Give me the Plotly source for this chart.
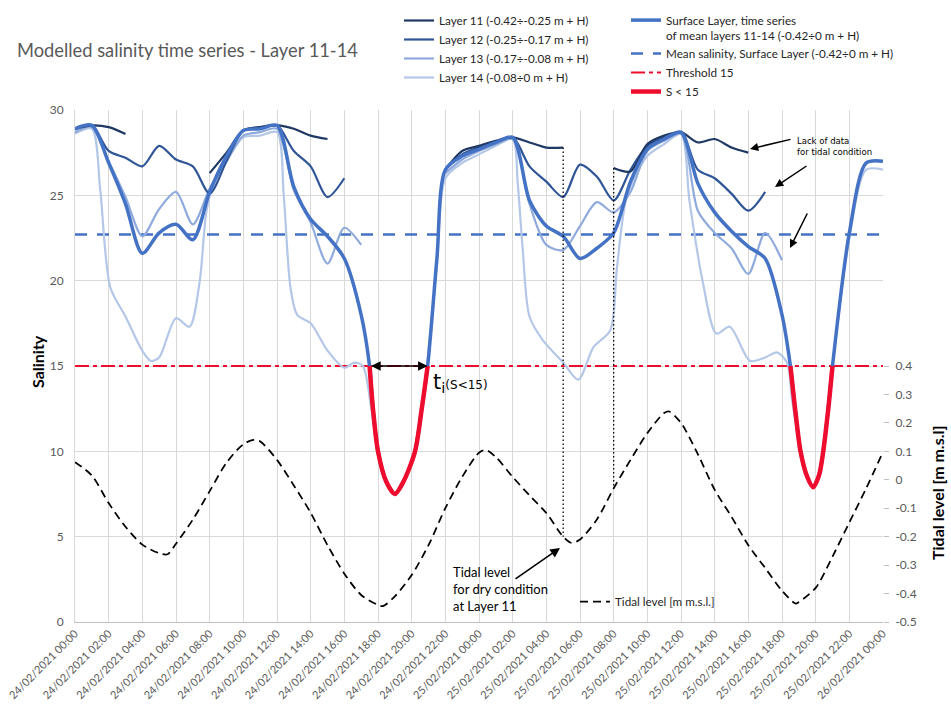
import plotly.graph_objects as go
import pandas as pd

BASE = pd.Timestamp("2021-02-24 00:00")

# ---------------- data (hours since 24/02/2021 00:00) ----------------
L11_H = [0, 1, 2, 3, 4, 8, 9, 10, 11, 12, 13, 14, 15, 16,
         22, 23, 24, 25, 26, 27, 28, 29, 30, 32, 33, 34, 35, 36, 37, 38, 39, 40]
L11_S = [28.9, 29.1, 29.0, 28.6, None, 26.3, 27.5, 28.8, 29.0, 29.1, 28.9, 28.5, 28.3, None,
         26.5, 27.6, 27.9, 28.2, 28.4, 28.1, 27.8, 27.8, None, 26.6, 26.4, 28.0, 28.5, 28.7, 28.1, 28.3, 27.8, 27.5]

L12_H = [0, 1, 2, 3, 4, 5, 6, 7, 8, 9, 10, 11, 12, 13, 14, 15, 16, 17,
         22, 23, 24, 25, 26, 27, 28, 29, 30, 31, 32, 33, 34, 35, 36, 37, 38, 39, 40, 41]
L12_S = [28.9, 29.1, 27.6, 27.2, 26.7, 27.9, 27.1, 26.7, 25.1, 27.0, 28.8, 29.0, 29.1, 27.6, 26.7, 24.9, 26.0, None,
         26.5, 27.4, 27.8, 28.1, 28.4, 26.7, 25.8, 24.9, 26.8, 26.1, 24.7, 26.5, 27.9, 28.4, 28.7, 26.5, 26.0, 25.1, 24.1, 25.2]

L13_H = [0, 1, 2, 3, 4, 5, 6, 7, 8, 9, 10, 11, 12, 13, 14, 15, 16, 17, 18,
         22, 23, 24, 25, 26, 27, 28, 29, 30, 31, 32, 33, 34, 35, 36, 37, 38, 39, 40, 41, 42]
L13_S = [28.7, 29.0, 27.0, 24.9, 22.6, 24.2, 25.2, 23.3, 25.4, 27.0, 28.5, 28.7, 28.9, 25.3, 23.4, 21.0, 23.1, 22.1, None,
         26.3, 27.1, 27.6, 28.0, 28.3, 24.5, 22.1, 21.8, 23.2, 24.6, 24.0, 25.2, 27.6, 28.2, 28.6, 24.1, 22.8, 21.9, 20.4, 22.8, 21.2]

L14_H = [0, 1, 1.5, 2.1, 3, 4, 4.5, 5, 6, 6.8, 7.4, 7.8, 8.2, 9, 10, 11, 12, 12.4, 12.8, 13.2, 14, 15, 16, 16.6, 17.1,
         17.6, 18.0, 18.5, 19.0, 19.5, 20.2, 20.9, 21.5, 22, 23, 24, 25, 26, 26.3, 26.6, 27, 27.8, 29, 29.9, 30.8, 31.8,
         32.2, 32.8, 34, 35, 36, 36.5, 37.3, 38.1, 38.9, 40.1, 41, 41.7, 42.3, 42.6, 43.1, 43.5, 43.85, 44.2, 44.45, 45,
         46, 47, 48]
L14_S = [28.6, 28.9, 25.3, 19.6, 17.9, 15.9, 15.3, 15.5, 17.8, 17.3, 19.9, 24.0, 25.6, 27.0, 28.4, 28.5, 28.7, 25.0, 19.6, 18.0,
         17.5, 15.9, 14.9, 15.2, 15.0, 12.5, 10.0, 8.2, 7.5, 8.2, 10.0, 15.0, 21.0, 26.0, 26.9, 27.4, 27.9, 28.3, 25.7, 21.8,
         17.9, 16.5, 15.2, 14.2, 16.1, 17.1, 20.8, 25.0, 27.3, 28.0, 28.6, 24.7, 19.9, 16.9, 17.3, 15.3, 15.5, 15.8, 15.2,
         13.0, 10.0, 8.5, 7.9, 8.6, 10.0, 15.0, 22.5, 26.5, 26.5]

SURF_H = [0, 1, 2, 3, 4, 5, 6, 7, 8, 9, 10, 11, 12, 13, 14, 15, 16, 17, 17.5, 17.7, 18.0, 18.5, 19.0, 19.5, 20.2,
          20.6, 20.95, 21.5, 22, 23, 24, 25, 26, 27, 28, 29, 30, 31, 32, 33, 34, 35, 36, 37, 38, 39, 40, 41, 42,
          42.5, 42.8, 43.1, 43.5, 43.85, 44.2, 44.45, 44.75, 45.0, 46, 47, 48]
SURF_S = [28.9, 29.1, 26.9, 24.5, 21.6, 22.8, 23.3, 22.4, 25.2, 27.3, 28.8, 28.9, 29.1, 25.5, 23.6, 22.6, 21.3, 18.0, 15.0,
          12.5, 10.0, 8.2, 7.5, 8.2, 10.0, 12.5, 15.0, 21.3, 26.5, 27.3, 27.7, 28.1, 28.4, 24.7, 23.2, 22.6, 21.3, 21.9,
          22.8, 25.8, 27.7, 28.3, 28.7, 25.7, 24.0, 22.9, 22.0, 21.3, 18.0, 15.0, 12.3, 10.0, 8.5, 7.9, 8.6, 10.0, 12.5,
          15.0, 22.8, 26.9, 27.0]

MEAN_SAL = 22.7
THRESHOLD = 15

TIDE_H = [0, 1, 2, 3, 4, 5, 5.5, 6, 7, 8, 9, 10, 10.6, 11, 12, 13, 14, 15, 16, 17, 18, 18.3, 19, 20, 21, 22, 23, 24,
          24.4, 25, 26, 27, 28, 29, 29.5, 30, 31, 32, 33, 34, 35, 35.3, 36, 37, 38, 39, 40, 41, 42, 42.8, 43, 44, 45,
          46, 47, 48]
TIDE = [0.062, 0.015, -0.082, -0.165, -0.228, -0.258, -0.262, -0.225, -0.14, -0.04, 0.06, 0.125, 0.14, 0.135, 0.07,
        -0.02, -0.116, -0.23, -0.33, -0.405, -0.44, -0.444, -0.41, -0.335, -0.23, -0.1, 0.01, 0.095, 0.105, 0.08,
        0.01, -0.055, -0.117, -0.2, -0.222, -0.21, -0.14, -0.03, 0.07, 0.164, 0.235, 0.24, 0.2, 0.09, -0.035, -0.13,
        -0.23, -0.31, -0.39, -0.435, -0.43, -0.38, -0.27, -0.15, -0.03, 0.098]

DRY_TIMES = [29, 32]          # layer 11 dry-condition limits
TI_START, TI_END = 17.5, 20.95  # t_i (S<15)

Y1_RANGE = [0, 30]
Y2_RANGE = [-0.5, 1.3]
Y2_TICKS = [-0.5, -0.4, -0.3, -0.2, -0.1, 0, 0.1, 0.2, 0.3, 0.4]
Y2_TICKTEXT = ["-0.5", "-0.4", "-0.3", "-0.2", "-0.1", "0", "0.1", "0.2", "0.3", "0.4"]

C11, C12, C13, C14 = "#1f3864", "#2f5597", "#8faadc", "#b4c7e7"
CSURF = "#4472c4"
CRED = "#ee0d2e"
FONT = "Lato"


def t(hours):
    return [BASE + pd.Timedelta(hours=h) for h in hours]


# plot area in pixels
PL, PR, PT, PB = 75, 883, 110, 622


def px(x):
    return (x - PL) / (PR - PL)


def py(y):
    return (PB - y) / (PB - PT)


fig = go.Figure()

# threshold & mean
fig.add_trace(go.Scatter(x=t([0, 48]), y=[THRESHOLD, THRESHOLD], mode="lines", name="Threshold 15",
                         line=dict(color=CRED, width=2, dash="14px,4px,4px,4px"), legend="legend2", legendrank=3))
fig.add_trace(go.Scatter(x=t([0, 48]), y=[MEAN_SAL, MEAN_SAL], mode="lines",
                         name="Mean salinity, Surface Layer (-0.42÷0 m + H)",
                         line=dict(color=CSURF, width=2.5, dash="12px,10px"), legend="legend2", legendrank=2))

# tidal level
fig.add_trace(go.Scatter(x=t(TIDE_H), y=TIDE, yaxis="y2", mode="lines", name="Tidal level [m m.s.l.]",
                         line=dict(color="black", width=1.75, dash="8px,5px", shape="spline", smoothing=0.8),
                         legend="legend3"))

# layers
for nm, H, S, c, rk in [("Layer 14 (-0.08÷0 m + H)", L14_H, L14_S, C14, 4),
                        ("Layer 13 (-0.17÷-0.08 m + H)", L13_H, L13_S, C13, 3),
                        ("Layer 12 (-0.25÷-0.17 m + H)", L12_H, L12_S, C12, 2),
                        ("Layer 11 (-0.42÷-0.25 m + H)", L11_H, L11_S, C11, 1)]:
    fig.add_trace(go.Scatter(x=t(H), y=S, mode="lines", name=nm,
                             line=dict(color=c, width=2.2, shape="spline", smoothing=0.8),
                             legend="legend", legendrank=rk))

# surface layer
fig.add_trace(go.Scatter(x=t(SURF_H), y=SURF_S, mode="lines",
                         name="Surface Layer, time series<br>of mean layers 11-14 (-0.42÷0 m + H)",
                         line=dict(color=CSURF, width=3.5, shape="spline", smoothing=0.8),
                         legend="legend2", legendrank=1))

# S < 15 part of surface layer
red_h, red_s = [], []
prev_in = False
for h, s in zip(SURF_H, SURF_S):
    inside = s <= THRESHOLD
    if inside:
        red_h.append(h)
        red_s.append(s)
    elif prev_in:
        red_h.append(h)
        red_s.append(None)
    prev_in = inside
fig.add_trace(go.Scatter(x=t(red_h), y=red_s, mode="lines", name="S < 15",
                         line=dict(color=CRED, width=4.5, shape="spline", smoothing=0.8),
                         legend="legend2", legendrank=4))

# dotted lines: dry condition of layer 11 down to tidal level
l11 = dict(zip(L11_H, L11_S))
tide = dict(zip(TIDE_H, TIDE))
for h in DRY_TIMES:
    top = l11[h]
    bot = (tide[h] - Y2_RANGE[0]) / (Y2_RANGE[1] - Y2_RANGE[0]) * (Y1_RANGE[1] - Y1_RANGE[0])
    fig.add_trace(go.Scatter(x=t([h, h]), y=[top, bot], mode="lines", showlegend=False,
                             line=dict(color="black", width=1.3, dash="1.5px,2.5px"), hoverinfo="skip"))

ann = []
# t_i double arrow
ann.append(dict(x=t([TI_END])[0], y=THRESHOLD, ax=t([TI_START])[0], ay=THRESHOLD, xref="x", yref="y",
                axref="x", ayref="y", text="", showarrow=True, arrowhead=2, startarrowhead=2,
                arrowside="end+start", arrowsize=1.2, arrowwidth=1.6, arrowcolor="black"))
ann.append(dict(x=px(431), y=py(383), xref="paper", yref="paper", xanchor="left", yanchor="middle",
                text="t<sub>i</sub><span style='font-size:12px;font-family:DejaVu Sans'>(S&lt;15)</span>",
                showarrow=False, font=dict(size=21, color="black", family="DejaVu Sans")))
# tidal level for dry condition
ann.append(dict(x=px(451), y=py(562), xref="paper", yref="paper", xanchor="left", yanchor="top", align="left",
                text="Tidal level<br>for dry condition<br>at Layer 11", showarrow=False,
                font=dict(size=13, color="black", family=FONT)))
ann.append(dict(x=px(560), y=py(548), xref="paper", yref="paper", ax=-46, ay=32, text="", showarrow=True,
                arrowhead=2, arrowsize=1.2, arrowwidth=1.6, arrowcolor="black"))
# lack of data
ann.append(dict(x=px(795), y=py(146), xref="paper", yref="paper", xanchor="left", yanchor="middle", align="left",
                text="Lack of data<br>for tidal condition", showarrow=False,
                font=dict(size=8.5, color="black", family="DejaVu Sans")))
for (hx, hy, ax, ay) in [(750, 149, 42, -10), (775, 187, 33, -22), (790, 248, 18, -36)]:
    ann.append(dict(x=px(hx), y=py(hy), xref="paper", yref="paper", ax=ax, ay=ay, text="", showarrow=True,
                    arrowhead=2, arrowsize=1.1, arrowwidth=1.5, arrowcolor="black"))
# titles
ann.append(dict(x=px(15), y=py(50), xref="paper", yref="paper", xanchor="left", yanchor="middle",
                text="Modelled salinity time series - Layer 11-14", showarrow=False,
                font=dict(size=18.3, color="#595959", family=FONT)))
ann.append(dict(x=px(37), y=py(362), xref="paper", yref="paper", xanchor="center", yanchor="middle",
                text="<b>Salinity</b>", textangle=-90, showarrow=False,
                font=dict(size=16, color="black", family=FONT)))
ann.append(dict(x=px(937), y=py(493), xref="paper", yref="paper", xanchor="center", yanchor="middle",
                text="<b>Tidal level [m m.s.l]</b>", textangle=-90, showarrow=False,
                font=dict(size=16, color="black", family=FONT)))

legfont = dict(size=11.7, color="#262626", family=FONT)
fig.update_layout(
    width=951, height=706,
    margin=dict(l=PL, r=951 - PR, t=PT, b=706 - PB, autoexpand=False),
    paper_bgcolor="white", plot_bgcolor="white",
    font=dict(family=FONT),
    showlegend=True,
    legend=dict(x=px(399), y=py(6), xanchor="left", yanchor="top", font=legfont, bgcolor="rgba(0,0,0,0)"),
    legend2=dict(x=px(626), y=py(6), xanchor="left", yanchor="top", font=legfont, valign="top",
                 bgcolor="rgba(0,0,0,0)"),
    legend3=dict(x=px(575), y=py(587), xanchor="left", yanchor="top", font=legfont, bgcolor="rgba(0,0,0,0)"),
    annotations=ann,
    xaxis=dict(type="date", range=[BASE, BASE + pd.Timedelta(hours=48)], tick0=BASE, dtick=2 * 3600 * 1000,
               tickformat="%d/%m/%Y %H:%M", tickangle=-45, showgrid=True, gridcolor="#d9d9d9", gridwidth=1,
               showline=True, linecolor="#bfbfbf", linewidth=1, ticks="", zeroline=False,
               tickfont=dict(size=11, color="#595959", family=FONT)),
    yaxis=dict(range=Y1_RANGE, dtick=5, tick0=0, showgrid=True, gridcolor="#d9d9d9", gridwidth=1,
               showline=True, linecolor="#d9d9d9", zeroline=False, ticks="", ticklabelstandoff=8,
               tickfont=dict(size=12, color="#595959", family=FONT)),
    yaxis2=dict(range=Y2_RANGE, overlaying="y", side="right", tickvals=Y2_TICKS, ticktext=Y2_TICKTEXT,
                showgrid=False, zeroline=False, showline=False, ticks="outside", ticklen=5, tickcolor="#bfbfbf",
                ticklabelstandoff=4, tickfont=dict(size=12, color="#595959", family=FONT)),
)

fig.write_html("out.html")
